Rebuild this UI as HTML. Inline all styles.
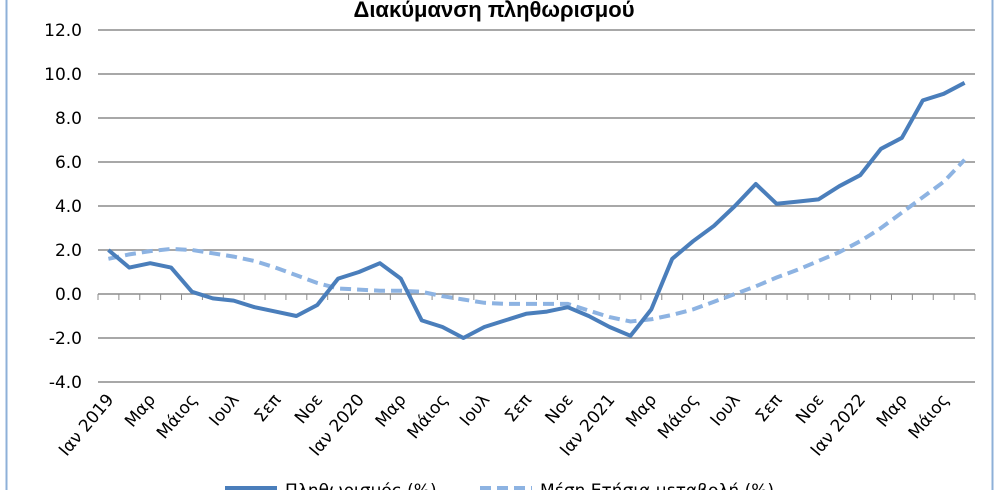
<!DOCTYPE html>
<html><head><meta charset="utf-8"><style>
html,body{margin:0;padding:0;background:#fff;}
svg{display:block;font-family:"DejaVu Sans","Liberation Sans",sans-serif;}
</style></head><body>
<svg id="chart" width="1003" height="490" viewBox="0 0 1003 490" xmlns="http://www.w3.org/2000/svg">
<rect x="0" y="0" width="1003" height="490" fill="#fff"/>
<line x1="6.5" y1="0" x2="6.5" y2="490" stroke="#8eb0d8" stroke-width="2"/>
<line x1="992.5" y1="0" x2="992.5" y2="490" stroke="#8eb0d8" stroke-width="2"/>
<text x="494" y="17" text-anchor="middle" font-family="Liberation Sans, sans-serif" font-weight="bold" font-size="22" fill="#000">Διακύμανση  πληθωρισμού</text>
<g id="grid"></g><g id="yaxis"></g><g id="xaxis"></g><g id="series"></g>
<g>
<line x1="225" y1="488" x2="277" y2="488" stroke="#4a7ebb" stroke-width="4"/>
<text x="285" y="496" font-size="17" fill="#000">Πληθωρισμός (%)</text>
<line x1="480" y1="488" x2="532" y2="488" stroke="#8db3e2" stroke-width="4" stroke-dasharray="11,6"/>
<text x="540" y="496" font-size="17" fill="#000">Μέση Ετήσια μεταβολή (%)</text>
</g>
</svg>
<script>
const months = ["Ιαν 2019","Φεβ","Μαρ","Απρ","Μάιος","Ιουν","Ιουλ","Αυγ","Σεπ","Οκτ","Νοε","Δεκ",
"Ιαν 2020","Φεβ","Μαρ","Απρ","Μάιος","Ιουν","Ιουλ","Αυγ","Σεπ","Οκτ","Νοε","Δεκ",
"Ιαν 2021","Φεβ","Μαρ","Απρ","Μάιος","Ιουν","Ιουλ","Αυγ","Σεπ","Οκτ","Νοε","Δεκ",
"Ιαν 2022","Φεβ","Μαρ","Απρ","Μάιος","Ιουν"];
const inflation = [2.0,1.2,1.4,1.2,0.1,-0.2,-0.3,-0.6,-0.8,-1.0,-0.5,0.7,
1.0,1.4,0.7,-1.2,-1.5,-2.0,-1.5,-1.2,-0.9,-0.8,-0.6,-1.0,
-1.5,-1.9,-0.7,1.6,2.4,3.1,4.0,5.0,4.1,4.2,4.3,4.9,
5.4,6.6,7.1,8.8,9.1,9.6];
const averageAnnual = [1.6,1.8,1.95,2.05,2.0,1.85,1.7,1.5,1.2,0.85,0.5,0.25,
0.2,0.15,0.15,0.1,-0.1,-0.25,-0.4,-0.45,-0.45,-0.45,-0.45,-0.75,
-1.05,-1.25,-1.15,-0.95,-0.7,-0.35,0.0,0.35,0.75,1.1,1.5,1.9,
2.4,3.0,3.7,4.4,5.1,6.1];
const yTicks = [-4,-2,0,2,4,6,8,10,12];
const NS="http://www.w3.org/2000/svg";
const X0=98,X1=975,Y0=294,PX=22;
const step=(X1-X0)/months.length;
function x(i){return X0+step*(i+0.5);}
function y(v){return Y0-v*PX;}
function mk(tag,attrs,parent){const e=document.createElementNS(NS,tag);for(const k in attrs)e.setAttribute(k,attrs[k]);parent.appendChild(e);return e;}
const grid=document.getElementById('grid'),ya=document.getElementById('yaxis'),xa=document.getElementById('xaxis'),se=document.getElementById('series');
yTicks.forEach(t=>{
  const l=mk('line',{x1:X0,x2:X1,y1:y(t),y2:y(t),stroke:'#8c8c8c','stroke-width':1.5},grid);
  
  
  const tx=mk('text',{x:82,y:y(t)+6,'text-anchor':'end','font-size':17,fill:'#000'},ya);
  tx.textContent=t.toFixed(1);
  
  
});
for(let i=0;i<=months.length;i++){
  const tk=mk('line',{x1:X0+step*i,x2:X0+step*i,y1:Y0,y2:Y0+6,stroke:'#8c8c8c','stroke-width':1},xa);
  
  
}
months.forEach((m,i)=>{
  if(i%2) return;
  const px=x(i)+6, py=400;
  const t=mk('text',{x:px,y:py,'text-anchor':'end','font-size':17,fill:'#000',transform:`rotate(-50 ${px} ${py})`},xa);
  t.textContent=m;
  
  
});
function path(arr){return arr.map((v,i)=>(i?'L':'M')+x(i).toFixed(1)+' '+y(v).toFixed(1)).join(' ');}
const pa=mk('path',{d:path(averageAnnual),fill:'none',stroke:'#8db3e2','stroke-width':4,'stroke-dasharray':'11,6'},se);


const pi=mk('path',{d:path(inflation),fill:'none',stroke:'#4a7ebb','stroke-width':4,'stroke-linejoin':'round'},se);


</script>
</body></html>
